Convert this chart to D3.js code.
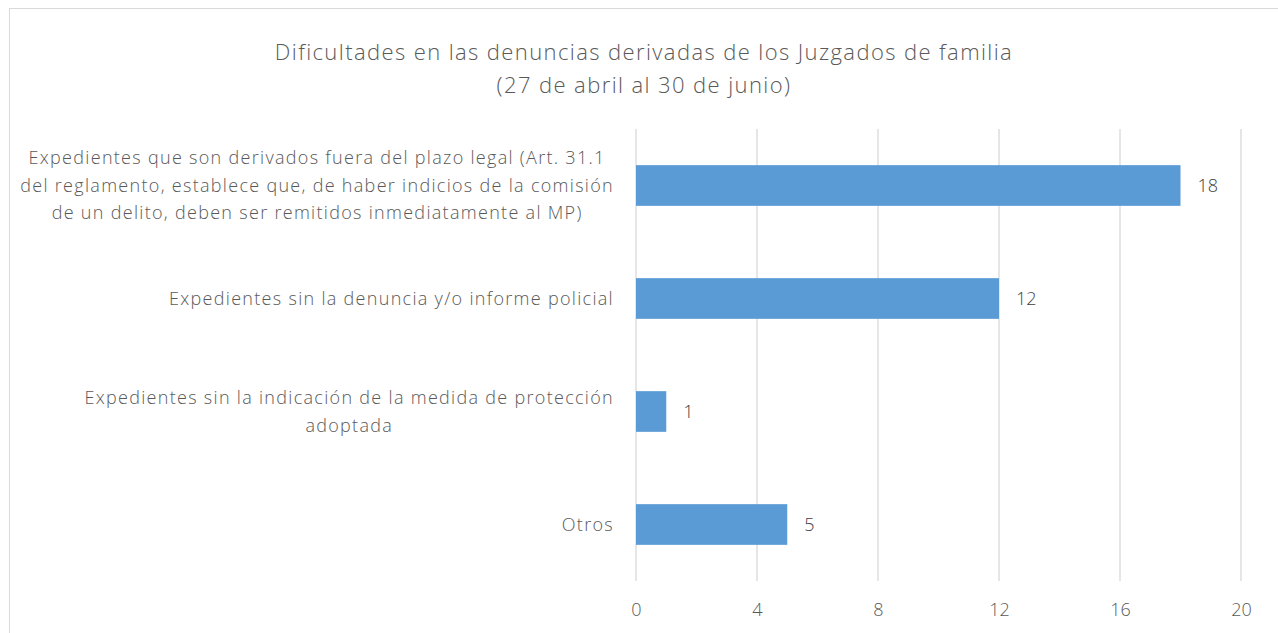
<!DOCTYPE html>
<html>
<head>
<meta charset="utf-8">
<script src="https://cdn.jsdelivr.net/npm/d3@7"></script>
<style>
  body { margin: 0; background: #fff; }
  text { font-family: "Open Sans", sans-serif; font-weight: 300; }
</style>
</head>
<body>
<div id="chart"></div>
<script>
// data
const categories = [
  ["Expedientes que son derivados fuera del plazo legal (Art. 31.1",
   "del reglamento, establece que, de haber indicios de la comisión",
   "de un delito, deben ser remitidos inmediatamente al MP)"],
  ["Expedientes sin la denuncia y/o informe policial"],
  ["Expedientes sin la indicación de la medida de protección",
   "adoptada"],
  ["Otros"]
];
const values = [18, 12, 1, 5];
const xTicks = [0, 4, 8, 12, 16, 20];
const titleLines = ["Dificultades en las denuncias derivadas de los Juzgados de familia",
                    "(27 de abril al 30 de junio)"];

const W = 1278, H = 633;
var margin = {top: 129, right: 37, bottom: 52, left: 636};
const width = W - margin.left - margin.right;
const height = H - margin.top - margin.bottom;

const svg = d3.select("#chart").append("svg")
    .attr("width", W)
    .attr("height", H);

// chart border
svg.append("rect")
   .attr("x", 9.5).attr("y", 8.5)
   .attr("width", W + 20).attr("height", H + 20)
   .attr("fill", "none")
   .attr("stroke", "#d9d9d9");

// title
svg.append("g").selectAll("text")
   .data(titleLines)
   .enter().append("text")
   .attr("x", 644)
   .attr("y", (d, i) => 52 + i * 33)
   .attr("dy", "0.35em")
   .attr("text-anchor", "middle")
   .attr("font-size", 22)
   .attr("letter-spacing", 1.4)
   .attr("fill", "#595959")
   .text(d => d);

const g = svg.append("g")
   .attr("transform", `translate(${margin.left},${margin.top})`);

var x = d3.scaleLinear().domain([0, 20]).range([0, width]);
var y = d3.scaleBand()
          .domain(d3.range(categories.length))
          .range([0, height])
          .paddingInner(0.64)
          .paddingOuter(0.32);

// gridlines
g.selectAll(".grid")
 .data(xTicks)
 .enter().append("line")
 .attr("x1", d => x(d)).attr("x2", d => x(d))
 .attr("y1", 0).attr("y2", height)
 .attr("stroke", "#d9d9d9")
 .attr("stroke-width", 1.3);

// x axis labels
const xAxis = g.append("g")
   .attr("transform", `translate(0, ${height})`)
   .call(d3.axisBottom(x).tickValues(xTicks).tickSize(0).tickPadding(22));
xAxis.select(".domain").remove();
xAxis.selectAll("text")
     .attr("font-size", 18)
     .attr("fill", "#595959")
     .style("font-family", "'Open Sans', sans-serif")
     .style("font-weight", 300);

// bars
g.selectAll(".bar")
 .data(values)
 .enter().append("rect")
 .attr("x", x(0))
 .attr("y", (d, i) => y(i))
 .attr("width", d => x(d) - x(0))
 .attr("height", y.bandwidth())
 .attr("fill", "#5b9bd5");

// value labels
g.selectAll(".val")
 .data(values)
 .enter().append("text")
 .attr("x", d => x(d) + 17)
 .attr("y", (d, i) => y(i) + y.bandwidth() / 2)
 .attr("dy", "0.35em")
 .attr("font-size", 18)
 .attr("fill", "#404040")
 .text(d => d);

// category labels: wrapped lines centred on their own block, block right-aligned
const lineH = 27.5;
const rightEdge = -22;
categories.forEach((lines, i) => {
  const cy = y(i) + y.bandwidth() / 2;
  const lab = g.append("g");
  const texts = lab.selectAll("text")
     .data(lines)
     .enter().append("text")
     .attr("y", (d, j) => cy + (j - (lines.length - 1) / 2) * lineH)
     .attr("dy", "0.35em")
     .attr("text-anchor", "middle")
     .attr("font-size", 18)
     .attr("letter-spacing", 1.3)
     .attr("fill", "#595959")
     .text(d => d);
  let maxW = 0;
  texts.each(function() { maxW = Math.max(maxW, this.getComputedTextLength()); });
  texts.attr("x", rightEdge - maxW / 2);
});
</script>
</body>
</html>
